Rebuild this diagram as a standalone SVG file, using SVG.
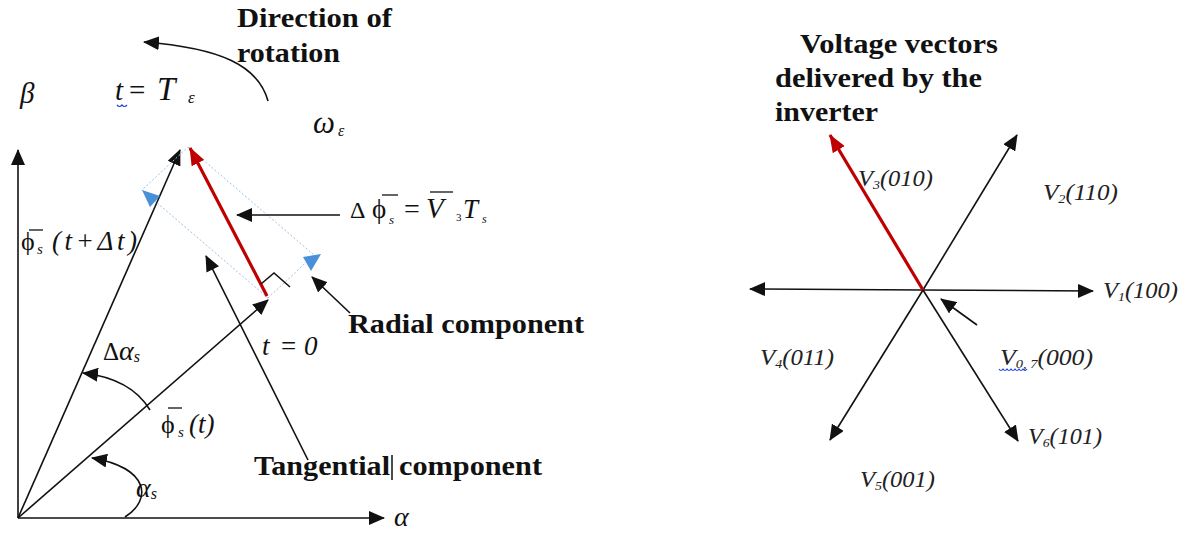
<svg xmlns="http://www.w3.org/2000/svg" width="1188" height="536" viewBox="0 0 1188 536">
<style>
.bold{font-weight:bold;font-size:28px;fill:#111}
.it{font-style:italic;fill:#111}
.vl{font-style:italic;font-size:23px;fill:#222}
.ln{stroke:#111;stroke-width:1.6;fill:none}
.red{stroke:#c00000;stroke-width:3.2;fill:none}
.dot{stroke:#9dc3e6;stroke-width:1;stroke-dasharray:2 2;fill:none}
.bar{stroke:#111;stroke-width:1.3}
</style>
<defs>
<marker id="ah" viewBox="0 0 16 14" refX="15" refY="7" markerWidth="16" markerHeight="14" markerUnits="userSpaceOnUse" orient="auto"><path d="M0,0 L16,7 L0,14 z" fill="#111"/></marker>
<marker id="ahr" viewBox="0 0 18 14" refX="17" refY="7" markerWidth="18" markerHeight="14" markerUnits="userSpaceOnUse" orient="auto"><path d="M0,0 L18,7 L0,14 z" fill="#c00000"/></marker>
</defs>
<rect width="1188" height="536" fill="#fff"/>

<g id="connectors">
  <line id="beta-axis" class="ln" x1="18" y1="518" x2="18" y2="150" marker-end="url(#ah)"/>
  <line id="alpha-axis" class="ln" x1="18" y1="518" x2="384" y2="518" stroke-width="2.2" marker-end="url(#ah)"/>
  <line id="flux-tdt" class="ln" x1="18" y1="518" x2="180" y2="150" marker-end="url(#ah)"/>
  <line id="flux-t" class="ln" x1="18" y1="518" x2="268" y2="300" marker-end="url(#ah)"/>
  <polygon class="dot" points="268,298 142,190 188,147 314,255"/>
  <polygon points="142,190 160,196 150,207" fill="#4a90d9"/>
  <polygon points="303,257 321,254 311,271" fill="#4a90d9"/>
  <line id="dphi" class="red" x1="267" y1="296" x2="190" y2="148" marker-end="url(#ahr)"/>
  <polyline class="ln" points="261,284 274,273 290,287"/>
  <line id="tangential" class="ln" x1="308" y1="460" x2="206" y2="256" marker-end="url(#ah)"/>
  <line id="radial" class="ln" x1="350" y1="313" x2="312" y2="277" marker-end="url(#ah)"/>
  <line id="dphi-label-arrow" class="ln" x1="340" y1="215" x2="237" y2="215" marker-end="url(#ah)"/>
  <path id="rotation" class="ln" d="M268,101 C258,65 220,48 144,42" marker-end="url(#ah)"/>
  <path id="arc-alpha" class="ln" d="M125,517 C152,500 150,468 92,458" marker-end="url(#ah)"/>
  <path id="arc-dalpha" class="ln" d="M150,410 C138,390 118,377 83,373" marker-end="url(#ah)"/>
  <line id="v1" class="ln" x1="923" y1="290" x2="1093" y2="291" marker-end="url(#ah)"/>
  <line id="v4" class="ln" x1="923" y1="290" x2="750" y2="289" marker-end="url(#ah)"/>
  <line id="v2" class="ln" x1="923" y1="290" x2="1017" y2="135" marker-end="url(#ah)"/>
  <line id="v5" class="ln" x1="923" y1="290" x2="830" y2="440" marker-end="url(#ah)"/>
  <line id="v6" class="ln" x1="923" y1="290" x2="1018" y2="441" marker-end="url(#ah)"/>
  <line id="v3" class="red" x1="923" y1="290" x2="830" y2="135" marker-end="url(#ahr)"/>
  <line id="v0" class="ln" x1="977" y1="325" x2="941" y2="299" marker-end="url(#ah)"/>
</g>

<g id="left-labels" font-family="Liberation Serif, DejaVu Serif, serif">
  <text class="bold" x="237" y="27" textLength="155" lengthAdjust="spacingAndGlyphs">Direction of</text>
  <text class="bold" x="237" y="62" textLength="103" lengthAdjust="spacingAndGlyphs">rotation</text>
  <text class="it" x="20" y="103" font-size="29">β</text>
  <g id="te-label">
    <text class="it" x="115" y="100" font-size="29">t</text>
    <text x="129" y="100" font-size="29" fill="#111">=</text>
    <text class="it" x="157" y="100" font-size="33">T</text>
    <text class="it" x="188" y="103" font-size="17">ε</text>
    <path d="M117,105 q2.5,3 5,0 q2.5,3 5,0" stroke="#2040e0" stroke-width="1.2" fill="none"/>
  </g>
  <text class="it" x="313" y="133" font-size="31">ω</text>
  <text class="it" x="338" y="136" font-size="16">ε</text>
  <g id="flux-tdt-label">
    <text x="21" y="250" font-size="26" fill="#111">ϕ</text>
    <text class="it" x="37" y="254" font-size="15">s</text>
    <text class="it" x="52" y="250" font-size="27" textLength="85" lengthAdjust="spacing">(t+Δt)</text>
    <line class="bar" x1="29" y1="230" x2="43" y2="230"/>
  </g>
  <g id="dphi-label">
    <text x="350" y="218" font-size="24" fill="#111">Δ</text>
    <text x="372" y="218" font-size="27" fill="#111">ϕ</text>
    <line class="bar" x1="382" y1="195" x2="398" y2="195"/>
    <text class="it" x="389" y="224" font-size="13">s</text>
    <text x="404" y="218" font-size="28" fill="#111">=</text>
    <text class="it" x="426" y="218" font-size="29">V</text>
    <line class="bar" x1="430" y1="192" x2="453" y2="192"/>
    <text x="456" y="221" font-size="11" fill="#111">3</text>
    <text class="it" x="463" y="218" font-size="27">T</text>
    <text class="it" x="482" y="223" font-size="12">s</text>
  </g>
  <text class="bold" x="348" y="333" textLength="236" lengthAdjust="spacingAndGlyphs">Radial component</text>
  <g id="t0-label">
    <text class="it" x="262" y="355" font-size="27">t</text>
    <text x="281" y="355" font-size="27" fill="#111">=</text>
    <text class="it" x="304" y="355" font-size="27">0</text>
  </g>
  <text x="103" y="360" font-size="25" fill="#111">Δ<tspan font-style="italic" font-size="28">α</tspan><tspan font-style="italic" font-size="16" dy="2">s</tspan></text>
  <g id="flux-t-label">
    <text x="161" y="433" font-size="26" fill="#111">ϕ</text>
    <text class="it" x="178" y="437" font-size="15">s</text>
    <text class="it" x="189" y="433" font-size="27">(t)</text>
    <line class="bar" x1="168" y1="408" x2="182" y2="408"/>
  </g>
  <text class="bold" x="254" y="475" textLength="136" lengthAdjust="spacingAndGlyphs">Tangential</text>
  <line x1="392" y1="455" x2="392" y2="480" stroke="#111" stroke-width="1.5"/>
  <text class="bold" x="399" y="475" textLength="143" lengthAdjust="spacingAndGlyphs">component</text>
  <text class="it" x="136" y="497" font-size="28">α<tspan font-size="16" dy="2">s</tspan></text>
  <text class="it" x="394" y="526" font-size="28">α</text>
</g>

<g id="right-labels" font-family="Liberation Serif, DejaVu Serif, serif">
  <text class="bold" x="800" y="53" textLength="198" lengthAdjust="spacingAndGlyphs">Voltage vectors</text>
  <text class="bold" x="775" y="87" textLength="207" lengthAdjust="spacingAndGlyphs">delivered by the</text>
  <text class="bold" x="775" y="121" textLength="103" lengthAdjust="spacingAndGlyphs">inverter</text>
  <text class="vl" x="858" y="186" textLength="75" lengthAdjust="spacingAndGlyphs">V<tspan font-size="13" dy="3">3</tspan><tspan dy="-3">(010)</tspan></text>
  <text class="vl" x="1043" y="200" textLength="75" lengthAdjust="spacingAndGlyphs">V<tspan font-size="13" dy="3">2</tspan><tspan dy="-3">(110)</tspan></text>
  <text class="vl" x="1103" y="298" textLength="75" lengthAdjust="spacingAndGlyphs">V<tspan font-size="13" dy="3">1</tspan><tspan dy="-3">(100)</tspan></text>
  <text class="vl" x="760" y="365" textLength="74" lengthAdjust="spacingAndGlyphs">V<tspan font-size="13" dy="3">4</tspan><tspan dy="-3">(011)</tspan></text>
  <text class="vl" x="1000" y="365" textLength="93" lengthAdjust="spacingAndGlyphs">V<tspan font-size="13" dy="3">0, 7</tspan><tspan dy="-3">(000)</tspan></text>
  <path d="M999,369 q2,3 4,0 q2,3 4,0 q2,3 4,0 q2,3 4,0 q2,3 4,0 q2,3 4,0 q2,3 4,0" stroke="#2040e0" stroke-width="1.2" fill="none"/>
  <text class="vl" x="1028" y="444" textLength="74" lengthAdjust="spacingAndGlyphs">V<tspan font-size="13" dy="3">6</tspan><tspan dy="-3">(101)</tspan></text>
  <text class="vl" x="860" y="487" textLength="75" lengthAdjust="spacingAndGlyphs">V<tspan font-size="13" dy="3">5</tspan><tspan dy="-3">(001)</tspan></text>
</g>
</svg>
